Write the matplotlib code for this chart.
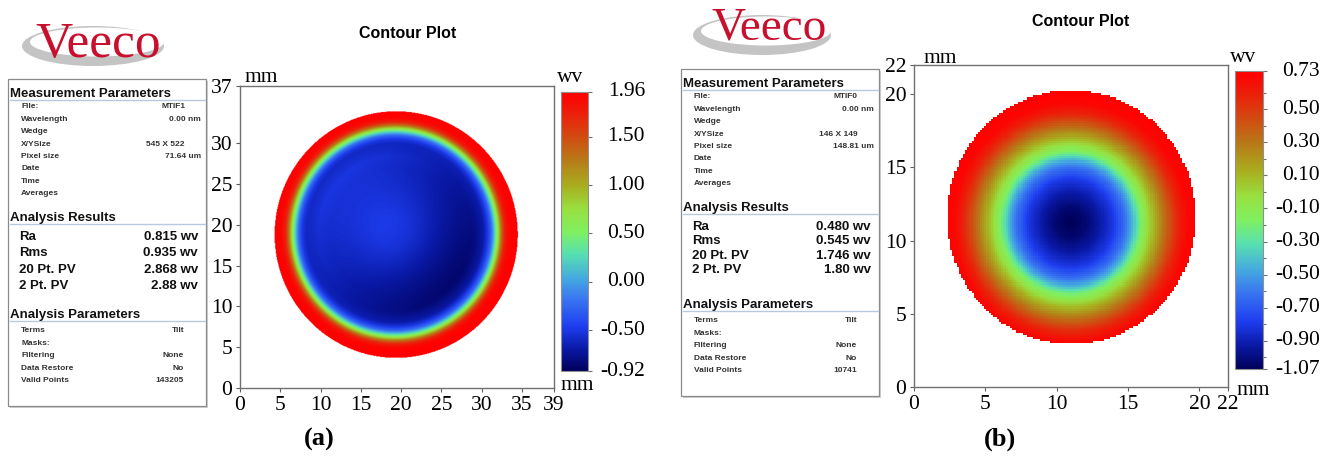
import numpy as np
import matplotlib
matplotlib.use('Agg')
import matplotlib.pyplot as plt
from matplotlib.colors import LinearSegmentedColormap
from matplotlib.patches import Rectangle, Ellipse
from matplotlib.transforms import blended_transform_factory

plt.rcParams['axes.unicode_minus'] = False
SERIF = 'Liberation Serif'
SANS = 'Liberation Sans'

W, H = 1336, 459

# colour scale
cmap_pos = [0.0, 0.08, 0.16, 0.26, 0.33, 0.42, 0.50, 0.58, 0.66, 0.76, 0.86, 0.94, 1.0]
cmap_col = ['#00005a', '#0a1aa8', '#1e3ef0', '#3a78f0', '#44a8e0', '#58e0b0', '#80f060',
            '#98e040', '#a8b020', '#b87818', '#d84010', '#f01808', '#ff0000']

# ---- panel (a): MTIF1 ----
a_nx, a_ny, a_pix = 545, 522, 0.07164          # pixels, mm per pixel
a_disk = (19.4, 18.8, 15.1)                     # centre x, centre y, radius (mm)
a_prof_c = (19.25, 19.0)
a_r = [0, 2, 4, 6, 8, 10, 11, 11.5, 12.0, 12.3, 12.6, 12.9, 13.2, 13.6, 14.1, 14.8]
a_v = [-0.50, -0.52, -0.58, -0.64, -0.68, -0.68, -0.64, -0.50, -0.22, 0.12, 0.48,
       0.85, 1.30, 1.72, 1.92, 1.96]
a_tilt = (-0.014, 0.012)                        # wv per mm, inner part only
a_cbar = [1.96, 1.50, 1.00, 0.50, 0.00, -0.50, -0.92]
a_xticks = [0, 5, 10, 15, 20, 25, 30, 35, 39]
a_yticks = [0, 5, 10, 15, 20, 25, 30, 37]

# ---- panel (b): MTIF0 ----
b_nx, b_ny, b_pix = 146, 149, 0.14881
b_disk = (11.0, 11.6, 8.68)
b_prof_c = (10.95, 11.2)
b_r = [0, 1, 2, 3, 3.8, 4.3, 4.8, 5.3, 5.8, 6.3, 6.9, 7.5, 8.2, 9.0]
b_v = [-1.07, -1.03, -0.93, -0.80, -0.62, -0.45, -0.22, -0.05, 0.10, 0.25, 0.42,
       0.58, 0.70, 0.73]
b_cbar = [0.73, 0.50, 0.30, 0.10, -0.10, -0.30, -0.50, -0.70, -0.90, -1.07]
b_cbar_minor = [0.6, 0.4, 0.2, 0.0, -0.2, -0.4, -0.6, -0.8, -1.0]
b_xticks = [0, 5, 10, 15, 20, 22]
b_yticks = [0, 5, 10, 15, 20, 22]

# ---- parameter boxes ----
meas_labels = ['File:', 'Wavelength', 'Wedge', 'X/YSize', 'Pixel size', 'Date', 'Time', 'Averages']
a_meas_vals = ['MTIF1', '0.00 nm', '', '545 X 522', '71.64 um', '', '', '']
b_meas_vals = ['MTIF0', '0.00 nm', '', '146 X 149', '148.81 um', '', '', '']
res_labels = ['Ra', 'Rms', '20 Pt. PV', '2 Pt. PV']
a_res_vals = ['0.815 wv', '0.935 wv', '2.868 wv', '2.88 wv']
b_res_vals = ['0.480 wv', '0.545 wv', '1.746 wv', '1.80 wv']
par_labels = ['Terms', 'Masks:', 'Filtering', 'Data Restore', 'Valid Points']
a_par_vals = ['Tilt', '', 'None', 'No', '143205']
b_par_vals = ['Tilt', '', 'None', 'No', '10741']

cmap = LinearSegmentedColormap.from_list('veeco', list(zip(cmap_pos, cmap_col)))
cmap.set_bad('white')


def surface(nx, ny, pix, disk, centre, r_k, v_k, tilt=None):
    x = (np.arange(nx) + 0.5) * pix
    y = (np.arange(ny) + 0.5) * pix
    X, Y = np.meshgrid(x, y)
    r = np.hypot(X - centre[0], Y - centre[1])
    z = np.interp(r, r_k, v_k)
    if tilt is not None:
        w = np.clip((11.5 - r) / 2.0, 0, 1)
        z = z + w * (tilt[0] * (X - centre[0]) + tilt[1] * (Y - centre[1]))
    out = np.hypot(X - disk[0], Y - disk[1]) > disk[2]
    return np.ma.masked_where(out, z), nx * pix, ny * pix


fig = plt.figure(figsize=(W / 100, H / 100), dpi=100)
bg = fig.add_axes([0, 0, 1, 1])
bg.set_xlim(0, W)
bg.set_ylim(H, 0)
bg.axis('off')
bg.patch.set_visible(False)


def fr(x0, y0, x1, y1):
    return [x0 / W, 1 - y1 / H, (x1 - x0) / W, (y1 - y0) / H]


def logo(x, base, size, ell):
    cx, cy, ew, eh = ell
    bg.add_patch(Ellipse((cx, cy), ew, eh, color='#c4c4c4', lw=0))
    bg.add_patch(Ellipse((cx + 4, cy - 4), ew - 8, eh - 11, color='white', lw=0))
    bg.text(x, base, 'Veeco', family=SERIF, size=size, color='#c8102e', va='baseline')


def info_box(x0, y0, meas_vals, res_vals, par_vals, res_step):
    bw, bh = 198, 327
    bg.add_patch(Rectangle((x0 + 2, y0 + 2), bw, bh, color='#d0d0d0', lw=0))
    bg.add_patch(Rectangle((x0, y0), bw, bh, facecolor='white', edgecolor='#8a8a8a', lw=0.9))
    head = dict(family=SANS, weight='bold', size=9.5, color='#111111', va='center')
    small = dict(family=SANS, weight='bold', size=6, color='#333333', va='center')
    big = dict(family=SANS, weight='bold', size=9.5, color='#111111', va='center')
    for ty, title in [(15, 'Measurement Parameters'), (139, 'Analysis Results'),
                      (236, 'Analysis Parameters')]:
        bg.text(x0 + 2, y0 + ty, title, **head)
        bg.plot([x0 + 2, x0 + bw - 1], [y0 + ty + 6, y0 + ty + 6], color='#b8c8e0', lw=1)
    for i, (lab, val) in enumerate(zip(meas_labels, meas_vals)):
        yy = y0 + 28 + i * 12.4
        bg.text(x0 + 13, yy, lab, **small)
        if val:
            xr = x0 + 193 if val.split()[-1] in ('nm', 'um') else x0 + 177
            bg.text(xr, yy, val, ha='right', **small)
    for i, (lab, val) in enumerate(zip(res_labels, res_vals)):
        yy = y0 + 158 + i * res_step
        bg.text(x0 + 11, yy, lab, **big)
        bg.text(x0 + 190, yy, val, ha='right', **big)
    for i, (lab, val) in enumerate(zip(par_labels, par_vals)):
        yy = y0 + 252 + i * 12.4
        bg.text(x0 + 13, yy, lab, **small)
        if val:
            bg.text(x0 + 176, yy, val, ha='right', **small)


def panel(ax_px, cb_px, z, ext, vmin, vmax, xt, yt, cb_ticks, cb_minor, interp):
    ax = fig.add_axes(fr(*ax_px))
    im = ax.imshow(z, cmap=cmap, vmin=vmin, vmax=vmax, origin='lower',
                   extent=[0, ext[0], 0, ext[1]], interpolation=interp, aspect='auto')
    ax.set_xlim(0, xt[-1])
    ax.set_ylim(0, yt[-1])
    ax.set_xticks(xt)
    ax.set_yticks(yt)
    ax.tick_params(labelsize=15.5, length=3, width=0.8, color='#606060', pad=2.5)
    for lab in ax.get_xticklabels() + ax.get_yticklabels():
        lab.set_family(SERIF)
    for s in ax.spines.values():
        s.set_color('#707070')
        s.set_linewidth(1)
    cax = fig.add_axes(fr(*cb_px))
    cb = fig.colorbar(im, cax=cax)
    cb.outline.set_edgecolor('#909090')
    cb.outline.set_linewidth(0.8)
    cax.set_yticks(cb_ticks)
    cax.set_yticks(cb_minor, minor=True)
    cax.tick_params(which='both', length=3, width=0.8, color='#707070', labelright=False)
    cax.tick_params(which='minor', length=2)
    tr = blended_transform_factory(cax.transAxes, cax.transData)
    wpx = cb_px[2] - cb_px[0]
    for v in cb_ticks:
        cax.text(1 + 57 / wpx, v, '%.2f' % v, transform=tr, ha='right', va='center',
                 family=SERIF, size=15.5)
    return ax


# panel (a)
logo(35, 57, 37, (93, 46, 142, 40))
bg.text(408, 33, 'Contour Plot', family=SANS, weight='bold', size=11.5, ha='center', va='center')
info_box(8, 79, a_meas_vals, a_res_vals, a_par_vals, 16.3)
za, exa, eya = surface(a_nx, a_ny, a_pix, a_disk, a_prof_c, a_r, a_v, a_tilt)
panel((240, 86, 554, 388), (561, 92, 588, 371), za, (exa, eya), a_cbar[-1], a_cbar[0],
      a_xticks, a_yticks, a_cbar, [], 'antialiased')
bg.text(261, 82, 'mm', family=SERIF, size=15.5, ha='center', va='baseline')
bg.text(570, 82, 'wv', family=SERIF, size=15.5, ha='center', va='baseline')
bg.text(577, 390, 'mm', family=SERIF, size=15.5, ha='center', va='baseline')
bg.text(319, 446, '(a)', family=SERIF, weight='bold', size=19, ha='center', va='baseline')

# panel (b)
logo(712, 40, 34, (762, 35, 138, 40))
bg.text(1081, 22, 'Contour Plot', family=SANS, weight='bold', size=11.5, ha='center', va='center')
info_box(681, 69, b_meas_vals, b_res_vals, b_par_vals, 14.3)
zb, exb, eyb = surface(b_nx, b_ny, b_pix, b_disk, b_prof_c, b_r, b_v)
panel((914, 65, 1228, 387), (1235, 71, 1263, 369), zb, (exb, eyb), b_cbar[-1], b_cbar[0],
      b_xticks, b_yticks, b_cbar, b_cbar_minor, 'nearest')
bg.text(940, 63, 'mm', family=SERIF, size=15.5, ha='center', va='baseline')
bg.text(1243, 62, 'wv', family=SERIF, size=15.5, ha='center', va='baseline')
bg.text(1253, 395, 'mm', family=SERIF, size=15.5, ha='center', va='baseline')
bg.text(1000, 446, '(b)', family=SERIF, weight='bold', size=19, ha='center', va='baseline')

fig.savefig('out.png', dpi=100)
